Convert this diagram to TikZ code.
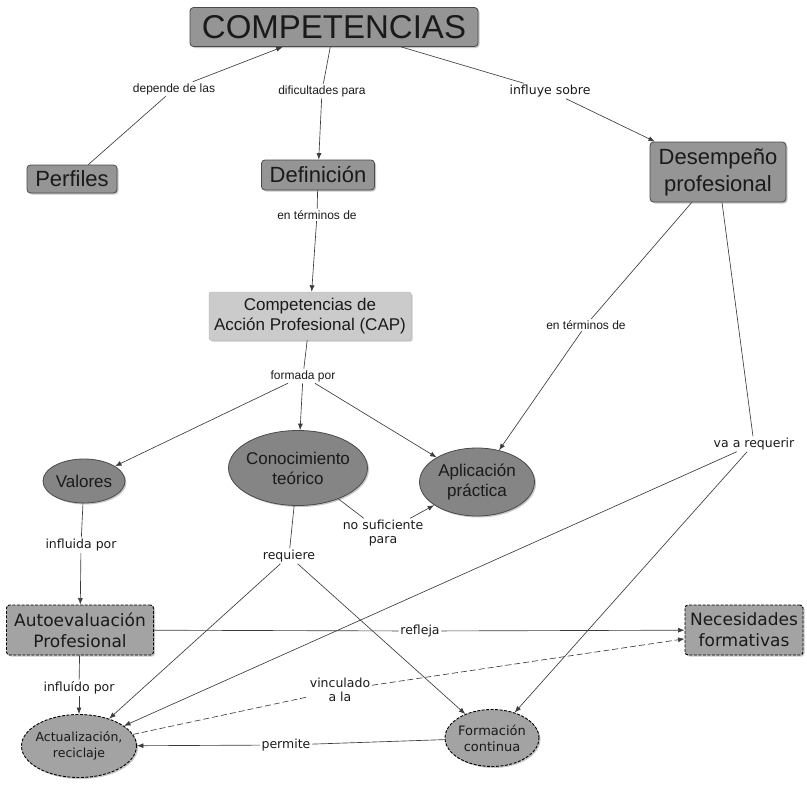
\documentclass[tikz,border=0pt]{standalone}
\usepackage{fontspec}
\setmainfont{Liberation Sans}
\newfontfamily\dvs{DejaVu Sans}
\usetikzlibrary{shapes.geometric,arrows.meta,shadows}
\definecolor{boxfill}{HTML}{959595}
\definecolor{ellfill}{HTML}{858585}
\definecolor{capfill}{HTML}{CBCBCB}
\definecolor{dashfill}{HTML}{A3A3A3}
\definecolor{edge}{HTML}{4A4A4A}
\definecolor{txt}{HTML}{1A1A1A}
\definecolor{lnk}{HTML}{3C3C3C}
\tikzset{
  shad/.style={drop shadow={shadow xshift=1.5pt,shadow yshift=-1.5pt,fill=black!40,opacity=.55}},
  cbox/.style={rectangle,rounded corners=3.5pt,fill=boxfill,draw=edge,line width=0.8pt,text=txt,align=center,inner sep=0pt,shad},
  capbox/.style={rectangle,rounded corners=2pt,fill=capfill,draw=capfill!90!black,line width=0.4pt,text=txt,align=center,inner sep=0pt,shad},
  cell/.style={ellipse,fill=ellfill,draw=edge,line width=0.8pt,text=txt,align=center,inner sep=0pt,shad},
  dbox/.style={rectangle,rounded corners=3pt,fill=dashfill,draw=black,dash pattern=on 3pt off 1.5pt,line width=0.9pt,text=txt,align=center,inner sep=0pt,shad},
  dell/.style={ellipse,fill=dashfill,draw=black,dash pattern=on 3pt off 1.5pt,line width=0.9pt,text=txt,align=center,inner sep=0pt,shad},
  lab/.style={text=txt,align=center,inner sep=1.5pt,font=\dvs\fontsize{12.5}{14}\selectfont},
  labA/.style={text=txt,align=center,inner sep=1.5pt,font=\fontsize{12}{14}\selectfont},
  ln/.style={draw=lnk,line width=0.65pt},
  ar/.style={draw=lnk,line width=0.65pt,-{Latex[length=6.5pt,width=5pt]}},
}
\begin{document}
\begin{tikzpicture}[x=1pt,y=-1pt]
\useasboundingbox (0,0) rectangle (807,801);
% concepts
\node[cbox,minimum width=288pt,minimum height=39pt,font=\fontsize{33}{36}\selectfont] (comp) at (334,27) {COMPETENCIAS};
\node[cbox,minimum width=90pt,minimum height=28pt,font=\fontsize{22}{27}\selectfont] (perf) at (72,179) {Perfiles};
\node[cbox,minimum width=113pt,minimum height=30pt,font=\fontsize{22}{27}\selectfont] (defi) at (318,175) {Definición};
\node[cbox,minimum width=136pt,minimum height=60pt,font=\fontsize{22}{27}\selectfont] (dese) at (718,172) {Desempeño\\profesional};
\node[capbox,minimum width=202pt,minimum height=48pt,font=\fontsize{17}{20}\selectfont] (cap) at (310,316) {Competencias de\\Acción Profesional (CAP)};
\node[cell,minimum width=82pt,minimum height=44pt,inner xsep=-2pt,font=\fontsize{17}{20}\selectfont] (valo) at (84,481) {Valores};
\node[cell,minimum width=139pt,minimum height=75pt,inner xsep=-3.5pt,font=\fontsize{17}{20}\selectfont] (cono) at (298,468) {Conocimiento\\teórico};
\node[cell,minimum width=115pt,minimum height=68pt,font=\fontsize{17}{20}\selectfont] (apli) at (477,482) {Aplicación\\práctica};
\node[dbox,minimum width=147pt,minimum height=50pt,font=\dvs\fontsize{17}{21}\selectfont] (auto) at (80,630) {Autoevaluación\\Profesional};
\node[dbox,minimum width=118pt,minimum height=50pt,font=\dvs\fontsize{17}{21}\selectfont] (nece) at (744,630) {Necesidades\\formativas};
\node[dell,minimum width=115pt,minimum height=63pt,inner xsep=-3.5pt,font=\dvs\fontsize{12.5}{16}\selectfont] (actu) at (79,746) {Actualización,\\reciclaje};
\node[dell,minimum width=94pt,minimum height=57pt,inner xsep=-1pt,font=\dvs\fontsize{13}{16}\selectfont] (form) at (492,738) {Formación\\continua};
% linking phrases
\node[labA] (l1) at (174,89) {depende de las};
\node[labA] (l2) at (322,91) {dificultades para};
\node[lab] (l3) at (550,91) {influye sobre};
\node[labA] (l4) at (317,215) {en términos de};
\node[labA] (l5) at (303,376) {formada por};
\node[labA] (l6) at (586,325) {en términos de};
\node[lab] (l7) at (754,444) {va a requerir};
\node[lab] (l8) at (81,545) {influida por};
\node[lab] (l9) at (289,556) {requiere};
\node[lab] (l10) at (383,533) {no suficiente\\para};
\node[lab] (l11) at (420,631) {refleja};
\node[lab] (l12) at (340,690) {vinculado\\a la};
\node[lab] (l13) at (79,688) {influído por};
\node[lab] (l14) at (286,745) {permite};
% connectors
\draw[ln] (perf) -- (l1);
\draw[ar] (l1) -- (comp);
\draw[ln] (comp) -- (l2);
\draw[ar] (l2) -- (defi);
\draw[ln] (comp) -- (l3);
\draw[ar] (l3) -- (dese);
\draw[ln] (defi) -- (l4);
\draw[ar] (l4) -- (cap);
\draw[ln] (cap) -- (l5);
\draw[ar] (l5) -- (valo);
\draw[ar] (l5) -- (cono);
\draw[ar] (l5) -- (apli);
\draw[ln] (dese) -- (l6);
\draw[ar] (l6) -- (apli);
\draw[ln] (dese) -- (l7);
\draw[ar] (l7) -- (actu);
\draw[ar] (l7) -- (form);
\draw[ln] (valo) -- (l8);
\draw[ar] (l8) -- (auto);
\draw[ln] (cono) -- (l9);
\draw[ar] (l9) -- (actu);
\draw[ar] (l9) -- (form);
\draw[ln] (cono) -- (l10);
\draw[ar] (l10) -- (apli);
\draw[ln] (auto) -- (l11);
\draw[ar] (l11) -- (nece);
\draw[ln,dash pattern=on 6pt off 3pt] (actu) -- (l12);
\draw[ar,dash pattern=on 6pt off 3pt] (l12) -- (nece);
\draw[ln] (auto) -- (l13);
\draw[ar] (l13) -- (actu);
\draw[ln] (form) -- (l14);
\draw[ar] (l14) -- (actu);
\end{tikzpicture}
\end{document}
